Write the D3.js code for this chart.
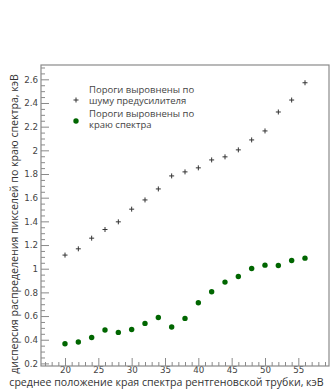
<!DOCTYPE html>
<html><head><meta charset="utf-8">
<script src="https://cdn.jsdelivr.net/npm/d3@7"></script>
<style>
html,body{margin:0;padding:0;background:#fff;}
svg{display:block;font-family:"Open Sans",sans-serif;}
</style></head>
<body><svg id="c" width="333" height="390"></svg>
<script>
const xValues = [20,22,24,26,28,30,32,34,36,38,40,42,44,46,48,50,52,54,56];
const noiseAligned = [1.115,1.168,1.258,1.331,1.396,1.503,1.581,1.674,1.784,1.818,1.852,1.919,1.945,2.004,2.088,2.164,2.324,2.425,2.571];
const edgeAligned = [0.366,0.381,0.419,0.482,0.462,0.487,0.538,0.588,0.507,0.580,0.712,0.805,0.887,0.934,1.002,1.030,1.027,1.069,1.089];
const xTickLabels = [20,25,30,35,40,45,50,55];
const yTickLabels = [0.2,0.4,0.6,0.8,1.0,1.2,1.4,1.6,1.8,2.0,2.2,2.4,2.6];
const legendLabels = [["Пороги выровнены по","шуму предусилителя"],["Пороги выровнены по","краю спектра"]];
const xTitle = "среднее положение края спектра рентгеновской трубки, кэВ";
const yTitle = "дисперсия распределения пикселей по краю спектра, кэВ";

const svg = d3.select("#c");
const L = 41, R = 329, T = 65, B = 366;
const x = d3.scaleLinear().domain([16.4, 59.6]).range([L, R]);
const y = d3.scaleLinear().domain([0.178, 2.721]).range([B, T]);
const axisCol = "#8a8a8a", textCol = "#444";

// minor ticks
const xMinor = d3.range(17, 60, 1).filter(v => v % 5 !== 0);
const yMinor = d3.range(0.25, 2.72, 0.05).filter(v => Math.abs(v*5 - Math.round(v*5)) > 1e-6);

const gx = svg.append("g").attr("transform", `translate(0,${B})`);
gx.call(d3.axisBottom(x).tickValues(xMinor).tickSize(-4).tickFormat(""));
gx.append("g").call(d3.axisBottom(x).tickValues(xTickLabels).tickSize(-8).tickPadding(1).tickFormat(d3.format("d")));
const gy = svg.append("g").attr("transform", `translate(${L},0)`);
gy.call(d3.axisLeft(y).tickValues(yMinor).tickSize(-4).tickFormat(""));
gy.append("g").call(d3.axisLeft(y).tickValues(yTickLabels).tickSize(-8).tickPadding(3).tickFormat(d => String(+d.toFixed(1))));
svg.selectAll(".domain").remove();
svg.selectAll(".tick line").attr("stroke", axisCol);
svg.selectAll(".tick text").attr("fill", textCol).style("font-family", "'DejaVu Sans',sans-serif").attr("font-size", 8.7);

// frame
svg.append("rect").attr("x", L).attr("y", T).attr("width", R - L).attr("height", B - T)
  .attr("fill", "none").attr("stroke", axisCol).attr("stroke-width", 1.2);

// crosses
const cs = 2.5;
svg.append("g").selectAll("path").data(xValues.map((v,i)=>[v,noiseAligned[i]])).join("path")
  .attr("d", d => { const px = x(d[0]), py = y(d[1]); return `M${px-cs},${py}H${px+cs}M${px},${py-cs}V${py+cs}`; })
  .attr("stroke", "#333").attr("stroke-width", 1).attr("fill","none");
// dots
svg.append("g").selectAll("circle").data(xValues.map((v,i)=>[v,edgeAligned[i]])).join("circle")
  .attr("cx", d => x(d[0])).attr("cy", d => y(d[1])).attr("r", 2.7).attr("fill", "#006600");

// legend
const lg = svg.append("g");
lg.append("path").attr("d", `M${76-cs},100H${76+cs}M76,${100-cs}V${100+cs}`).attr("stroke","#333").attr("stroke-width",1);
lg.append("circle").attr("cx", 76).attr("cy", 121).attr("r", 2.7).attr("fill", "#006600");
const lgY = [[92.5,104],[116.5,128]];
legendLabels.forEach((lines, i) => lines.forEach((t, j) => {
  lg.append("text").attr("x", 89).attr("y", lgY[i][j]).attr("font-size", 9.5).attr("fill", textCol).text(t);
}));

// titles
svg.append("text").attr("x", 166.5).attr("y", 386.3).attr("text-anchor", "middle")
  .attr("font-size", 10.6).attr("fill", "#333").text(xTitle);
svg.append("text").attr("transform", "translate(17.5,224) rotate(-90)").attr("text-anchor", "middle")
  .attr("font-size", 10.6).attr("fill", "#333").text(yTitle);
</script></body></html>
